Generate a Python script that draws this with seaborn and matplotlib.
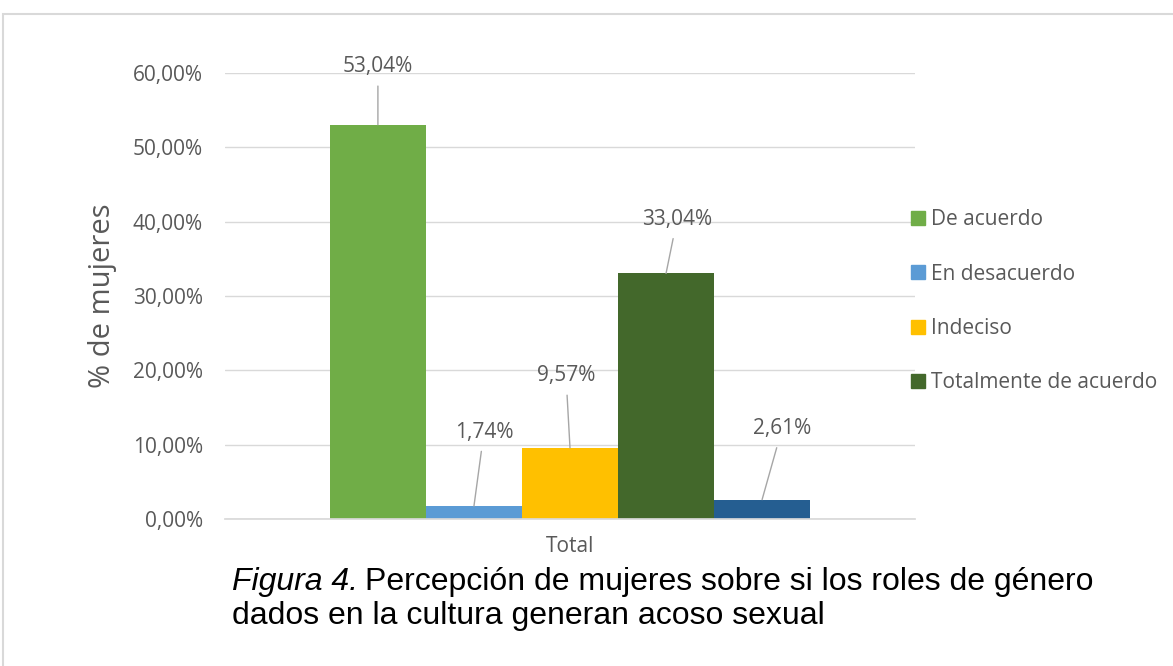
import matplotlib
matplotlib.use("Agg")
import matplotlib.pyplot as plt
import matplotlib.patches as mpatches
from matplotlib.ticker import FuncFormatter
import seaborn as sns
import pandas as pd

# datos
respuestas = ["De acuerdo", "En desacuerdo", "Indeciso",
              "Totalmente de acuerdo", "Totalmente en desacuerdo"]
porcentajes = [53.04, 1.74, 9.57, 33.04, 2.61]
grupo = ["Total"] * len(respuestas)
colores = ["#70AD47", "#5B9BD5", "#FFC000", "#43682B", "#255E91"]
en_leyenda = 4  # la ultima serie no aparece en la leyenda original

df = pd.DataFrame({"grupo": grupo, "respuesta": respuestas, "porcentaje": porcentajes})

sns.set_theme(style="white")
plt.rcParams["font.family"] = ["Open Sans", "DejaVu Sans"]
gris = "#595959"
fs = 15

fig = plt.figure(figsize=(11.73, 6.66), dpi=100)
ax = fig.add_axes([225 / 1173, 1 - 519 / 666, 690 / 1173, 446 / 666])

sns.barplot(data=df, x="grupo", y="porcentaje", hue="respuesta",
            hue_order=respuestas, palette=colores, saturation=1,
            width=0.696, gap=0, linewidth=0, legend=False, ax=ax)

ax.set_ylim(0, 60)
ax.set_xlim(-0.5, 0.5)
ax.set_yticks(range(0, 61, 10))
ax.yaxis.set_major_formatter(FuncFormatter(lambda v, p: f"{v:.2f}%".replace(".", ",")))
ax.grid(axis="y", color="#D9D9D9", lw=1)
ax.set_axisbelow(True)
for s in ["top", "right", "left"]:
    ax.spines[s].set_visible(False)
ax.spines["bottom"].set_color("#D9D9D9")
ax.tick_params(axis="both", length=0, labelsize=fs, colors=gris)
ax.tick_params(axis="y", pad=16)
ax.tick_params(axis="x", pad=12)
ax.set_xlabel("")
ax.set_ylabel("% de mujeres", fontsize=21, color=gris, labelpad=11)

# etiquetas con lineas guia (desplazamiento en pixeles)
offsets = [(0, 58), (10, 74), (-4, 72), (11, 54), (20, 71)]
for cont, val, off in zip(ax.containers, porcentajes, offsets):
    bar = cont[0]
    xc = bar.get_x() + bar.get_width() / 2
    ax.annotate(f"{val:.2f}%".replace(".", ","), xy=(xc, val), xytext=off,
                textcoords="offset pixels", ha="center", va="center",
                fontsize=fs, color=gris, annotation_clip=False,
                arrowprops=dict(arrowstyle="-", color="#A6A6A6", lw=1,
                                shrinkA=4, shrinkB=0))

handles = [mpatches.Patch(color=c, label=r) for c, r in zip(colores[:en_leyenda], respuestas[:en_leyenda])]
fig.legend(handles=handles, loc="upper left", bbox_to_anchor=(903 / 1173, 1 - 201 / 666),
           frameon=False, fontsize=fs, labelcolor=gris, handlelength=0.65,
           handleheight=0.65, handletextpad=0.3, labelspacing=1.6, borderaxespad=0)

# pie de figura
cap = dict(fontsize=23, family=["Liberation Sans"], color="black", va="center")
t1 = fig.text(232 / 1173, 1 - 582 / 666, "Figura 4.", style="italic", **cap)
fig.canvas.draw()
bb = t1.get_window_extent()
fig.text((bb.x1 + 7) / 1173, 1 - 582 / 666, "Percepción de mujeres sobre si los roles de género", **cap)
fig.text(232 / 1173, 1 - 616 / 666, "dados en la cultura generan acoso sexual", **cap)

# marco del grafico
fig.patches.append(mpatches.Rectangle((3 / 1173, -0.1), 1.1, 1 - 14 / 666 + 0.1,
                                      transform=fig.transFigure, fill=False,
                                      edgecolor="#D9D9D9", lw=1.5))

fig.savefig("out.png", dpi=100)
